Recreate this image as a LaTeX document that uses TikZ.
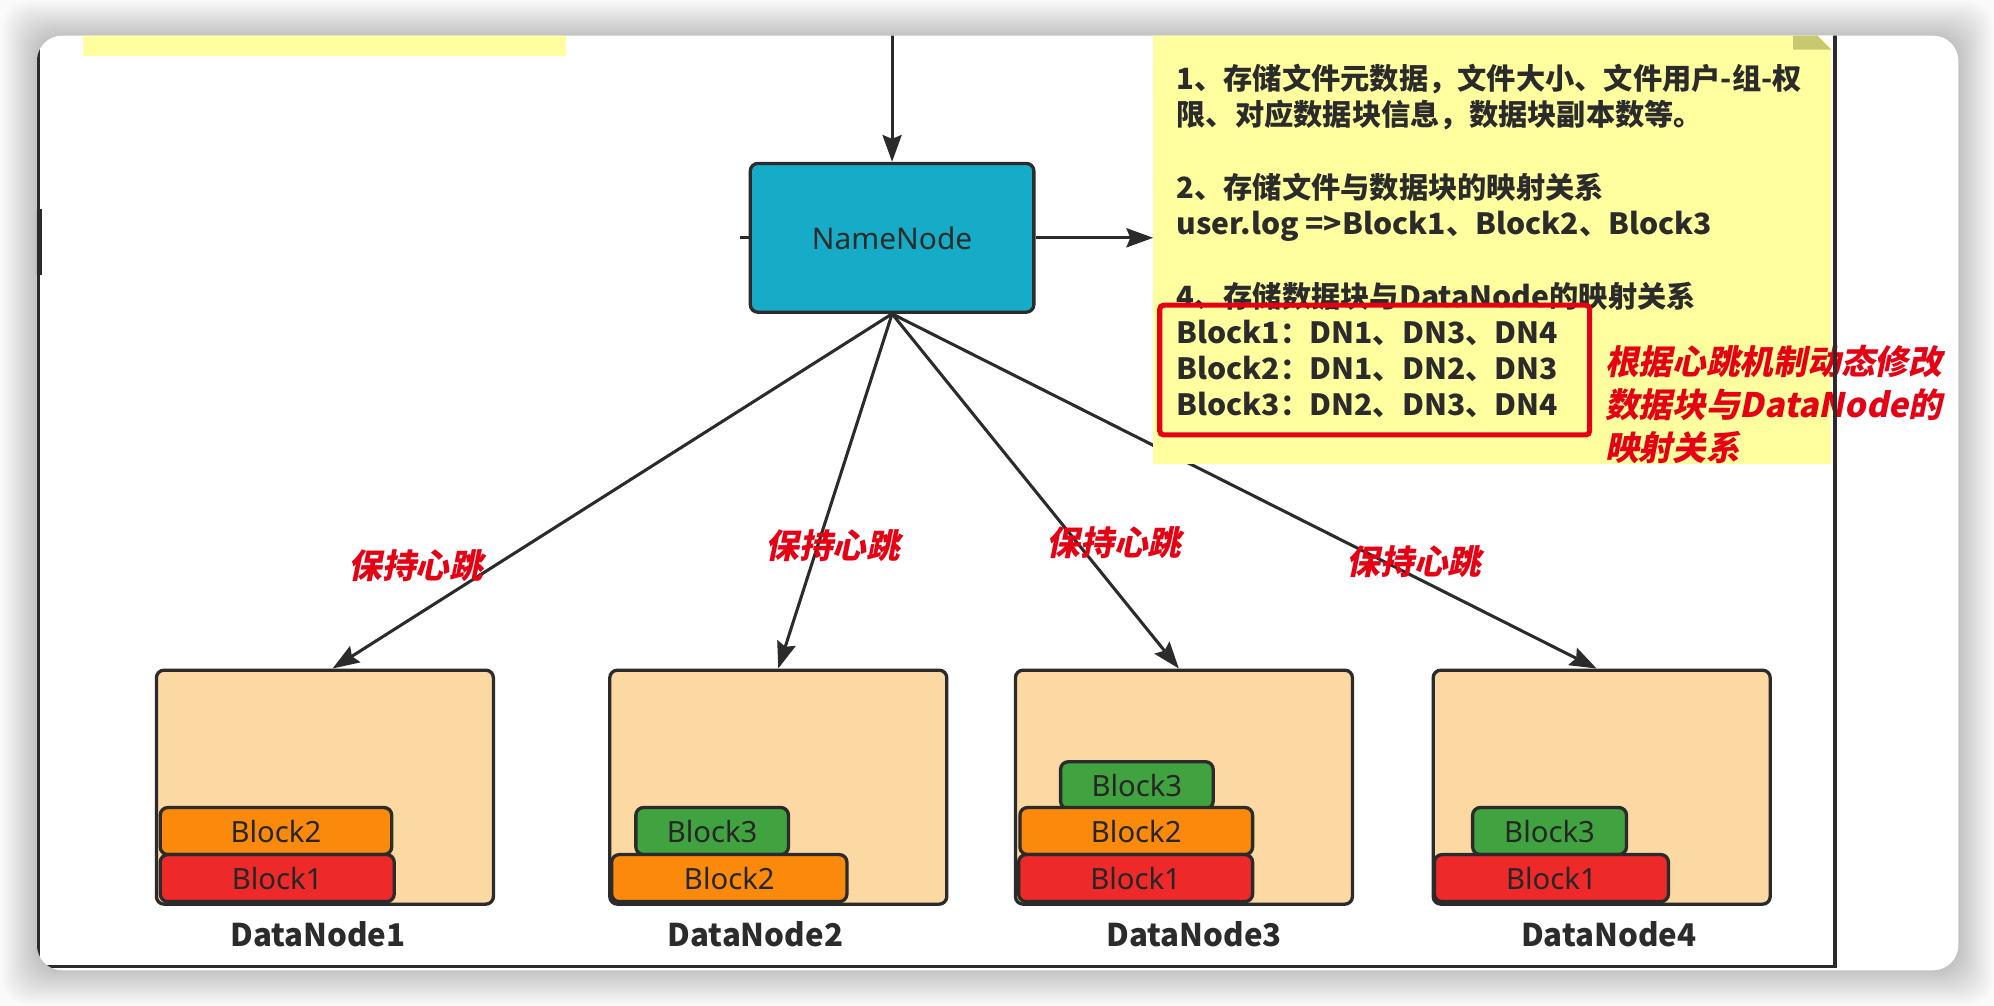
\documentclass[tikz,border=0pt]{standalone}
\usepackage{fontspec}
\setmainfont{Noto Sans}
\newfontfamily\cjk{Noto Sans CJK SC}
\newfontfamily\latb{Noto Sans CJK SC}[FakeStretch=1.03]
\newfontfamily\cjksl{Noto Sans CJK SC}[FakeSlant=0.2]
\usetikzlibrary{arrows.meta}
\definecolor{ink}{RGB}{43,43,43}
\definecolor{nnfill}{RGB}{22,172,200}
\definecolor{dnfill}{RGB}{252,217,162}
\definecolor{bred}{RGB}{237,41,41}
\definecolor{borange}{RGB}{251,137,11}
\definecolor{bgreen}{RGB}{64,163,64}
\definecolor{noteyel}{RGB}{255,255,160}
\definecolor{foldcol}{RGB}{200,200,112}
\definecolor{alert}{RGB}{230,0,20}
\definecolor{bggray}{RGB}{250,250,250}
\newcommand\lt[1]{{\latb #1}}
\begin{document}
\begin{tikzpicture}[x=1pt,y=-1pt,
  box/.style={draw=ink, line width=2.6pt, rounded corners=6pt, inner sep=0pt},
  nnbox/.style={box, fill=nnfill, minimum width=223pt, minimum height=117pt, font=\fontsize{23.5pt}{28pt}\selectfont, text=ink},
  dnbox/.style={box, fill=dnfill, minimum width=265pt, minimum height=184pt},
  blk/.style={box, minimum height=37pt, font=\fontsize{23pt}{28pt}\selectfont, text=black!85},
  dnlabel/.style={font=\cjk\bfseries\fontsize{24.6pt}{30pt}\selectfont, text=ink, inner sep=0pt},
  link/.style={draw=ink, line width=2.4pt, -{Stealth[length=21pt,width=15pt,inset=3pt]}},
  noteline/.style={anchor=base west, inner sep=0pt, font=\cjk\bfseries\fontsize{23pt}{28pt}\selectfont, text=ink},
  alertlab/.style={inner sep=0pt, font=\cjksl\bfseries\fontsize{26.5pt}{34pt}\selectfont, text=alert},
  notebox/.style={fill=noteyel, inner sep=0pt, minimum width=533pt, minimum height=356pt},
  redframe/.style={draw=alert, line width=4pt, rounded corners=3pt, inner sep=0pt, minimum width=338pt, minimum height=102pt},
]
\useasboundingbox (0,0) rectangle (1568,791);
\fill[bggray] (0,0) rectangle (1568,791);
\foreach \i in {1,...,18}
  \fill[black, opacity=0.011, rounded corners=20pt] ({29-1.5*\i},{28-1.5*\i}) rectangle ({1540+1.5*\i},{763+1.5*\i});
\fill[white, rounded corners=20pt] (29,28) rectangle (1540,763);

\begin{scope}
\clip[rounded corners=20pt] (29,28) rectangle (1540,763);
% top-left partial note
\fill[noteyel] (65,20) rectangle (445,44);

% NameNode
\node[nnbox] (nn) at (701.5,187) {NameNode};

% DataNodes
\node[dnbox] (dn1) at (255.5,619) {};
\node[dnbox] (dn2) at (612,619) {};
\node[dnbox] (dn3) at (931,619) {};
\node[dnbox] (dn4) at (1259.5,619) {};

% blocks
\node[blk, fill=borange, minimum width=182pt] (b12) at (217,653.5) {Block2};
\node[blk, fill=bred, minimum width=184pt] (b11) at (218,690.5) {Block1};
\node[blk, fill=bgreen, minimum width=120pt] (b23) at (560,653.5) {Block3};
\node[blk, fill=borange, minimum width=185pt] (b22) at (573.5,690.5) {Block2};
\node[blk, fill=bgreen, minimum width=120pt] (b33) at (894,617.5) {Block3};
\node[blk, fill=borange, minimum width=183pt] (b32) at (893.5,653.5) {Block2};
\node[blk, fill=bred, minimum width=184pt] (b31) at (893,690.5) {Block1};
\node[blk, fill=bgreen, minimum width=121pt] (b43) at (1218.5,653.5) {Block3};
\node[blk, fill=bred, minimum width=184pt] (b41) at (1220,690.5) {Block1};

% DataNode labels
\node[dnlabel] (l1) at (250,735) {DataNode1};
\node[dnlabel] (l2) at (594,735) {DataNode2};
\node[dnlabel] (l3) at (939,735) {DataNode3};
\node[dnlabel] (l4) at (1265,735) {DataNode4};

% heartbeat edges
\draw[link] (nn.south) -- ([xshift=6pt]dn1.north);
\draw[link] (nn.south) -- (dn2.north);
\draw[link] (nn.south) -- ([xshift=-4pt]dn3.north);
\draw[link] (nn.south) -- ([xshift=-4pt]dn4.north);

% note
\node[notebox] (note) at (1173.5,187) {};
\fill[white] (1410,8) -- (1441,8) -- (1441,39) -- cycle;
\fill[foldcol] (1410,9) -- (1410,39) -- (1440,39) -- cycle;

\node[noteline] (t1) at (925,70.5) {1、存储文件元数据，文件大小、文件用户-组-权};
\node[noteline] (t2) at (925,99) {限、对应数据块信息，数据块副本数等。};
\node[noteline] (t4) at (925,156) {2、存储文件与数据块的映射关系};
\node[noteline] (t5) at (925,184.5) {\lt{user.log =>Block1}、\lt{Block2}、\lt{Block3}};
\node[noteline] (t7) at (925,241.5) {4、存储数据块与\lt{DataNode}的映射关系};
\node[noteline] (t8) at (925,270) {\lt{Block1}：\lt{DN1}、\lt{DN3}、\lt{DN4}};
\node[noteline] (t9) at (925,298.5) {\lt{Block2}：\lt{DN1}、\lt{DN2}、\lt{DN3}};
\node[noteline] (t10) at (925,327) {\lt{Block3}：\lt{DN2}、\lt{DN3}、\lt{DN4}};
\node[redframe] (rb) at (1081,291) {};

% other connectors
\coordinate (topin) at (701.5,20);
\draw[link] (topin) -- (nn.north);
\draw[link] (nn.east) -- (note.west);
\coordinate (stubend) at (582,187);
\draw[ink, line width=2.4pt] (nn.west) -- (stubend);

% red labels
\node[alertlab] (h1) at (327,445) {保持心跳};
\node[alertlab] (h2) at (655,429) {保持心跳};
\node[alertlab] (h3) at (876,427) {保持心跳};
\node[alertlab] (h4) at (1112,442) {保持心跳};
\node[alertlab, anchor=base west] (r1) at (1262,294.5) {根据心跳机制动态修改};
\node[alertlab, anchor=base west] (r2) at (1262,328.5) {数据块与DataNode的};
\node[alertlab, anchor=base west] (r3) at (1262,362.5) {映射关系};

% frame
\draw[ink, line width=2.6pt] (30.5,0) -- (30.5,760) -- (1443,760) -- (1443,0);
\draw[ink, line width=4.5pt] (30.5,164) -- (30.5,216);
\end{scope}
\end{tikzpicture}
\end{document}
